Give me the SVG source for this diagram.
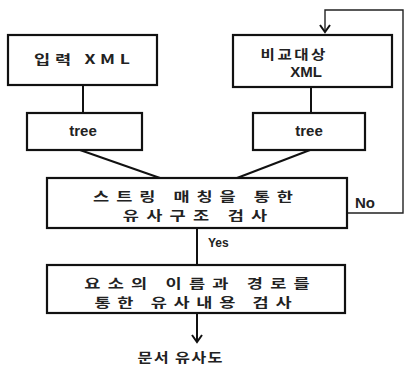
<svg xmlns="http://www.w3.org/2000/svg" width="406" height="367" viewBox="0 0 406 367">
<style>
.box{fill:#fff;stroke:#111;stroke-width:2.2}
.ln{fill:none;stroke:#111;stroke-width:2}
.fb{fill:none;stroke:#222;stroke-width:1.4}
.t{font-family:"Noto Sans CJK KR","Noto Sans",sans-serif;font-weight:700;font-size:13px;fill:#222;text-anchor:middle}
.e{font-family:"Liberation Sans","Noto Sans",sans-serif;font-weight:700;font-size:15px;fill:#222;text-anchor:middle}
.s{font-family:"Liberation Sans","Noto Sans",sans-serif;font-weight:700;fill:#222}
</style>
<defs>
<marker id="arrD" markerWidth="12" markerHeight="10" refX="6" refY="8" markerUnits="userSpaceOnUse" viewBox="0 0 12 10">
<path d="M1,1 L6,8 L11,1" fill="none" stroke="#111" stroke-width="2"/>
</marker>
</defs>
<rect width="406" height="367" fill="#fff"/>
<g id="connectors">
<line class="ln" x1="83" y1="85" x2="83" y2="113"/>
<line class="ln" x1="311" y1="87" x2="311" y2="113"/>
<line class="ln" x1="80" y1="150" x2="160" y2="178"/>
<line class="ln" x1="310" y1="150" x2="237" y2="178"/>
<line class="ln" x1="197" y1="228" x2="197" y2="265"/>
<line class="ln" x1="197" y1="313" x2="197" y2="342" marker-end="url(#arrD)"/>
<polyline class="fb" points="347,213 403,213 403,10 325,10 325,32" marker-end="url(#arrD)"/>
<text class="s" x="208" y="247" font-size="12">Yes</text>
<text class="s" x="355" y="208" font-size="15">No</text>
</g>
<g id="input-xml">
<rect class="box" x="8" y="35" width="149" height="50"/>
<text class="t" transform="translate(82,64) scale(1.35,1)" x="0" y="0" textLength="71" lengthAdjust="spacing">입력 XML</text>
</g>
<g id="target-xml">
<rect class="box" x="233" y="35" width="159" height="52"/>
<text class="t" transform="translate(293,59) scale(1.2,1)" x="0" y="0" textLength="54" lengthAdjust="spacing">비교대상</text>
<text class="e" x="306" y="77">XML</text>
</g>
<g id="tree1">
<rect class="box" x="27" y="113" width="115" height="37"/>
<text class="e" x="83" y="136">tree</text>
</g>
<g id="tree2">
<rect class="box" x="253" y="113" width="112" height="37"/>
<text class="e" x="309" y="136">tree</text>
</g>
<g id="structure-check">
<rect class="box" x="47" y="178" width="300" height="50"/>
<text class="t" transform="translate(193,201) scale(1.35,1)" x="0" y="0" textLength="148" lengthAdjust="spacing">스트링 매칭을 통한</text>
<text class="t" transform="translate(195,220) scale(1.35,1)" x="0" y="0" textLength="107" lengthAdjust="spacing">유사구조 검사</text>
</g>
<g id="content-check">
<rect class="box" x="47" y="265" width="298" height="48"/>
<text class="t" transform="translate(197,288) scale(1.35,1)" x="0" y="0" textLength="167" lengthAdjust="spacing">요소의 이름과 경로를</text>
<text class="t" transform="translate(193,307) scale(1.35,1)" x="0" y="0" textLength="146" lengthAdjust="spacing">통한 유사내용 검사</text>
</g>
<g id="doc-similarity">
<text class="t" transform="translate(180,362) scale(1.25,1)" x="0" y="0" textLength="68" lengthAdjust="spacing">문서 유사도</text>
</g>
</svg>
